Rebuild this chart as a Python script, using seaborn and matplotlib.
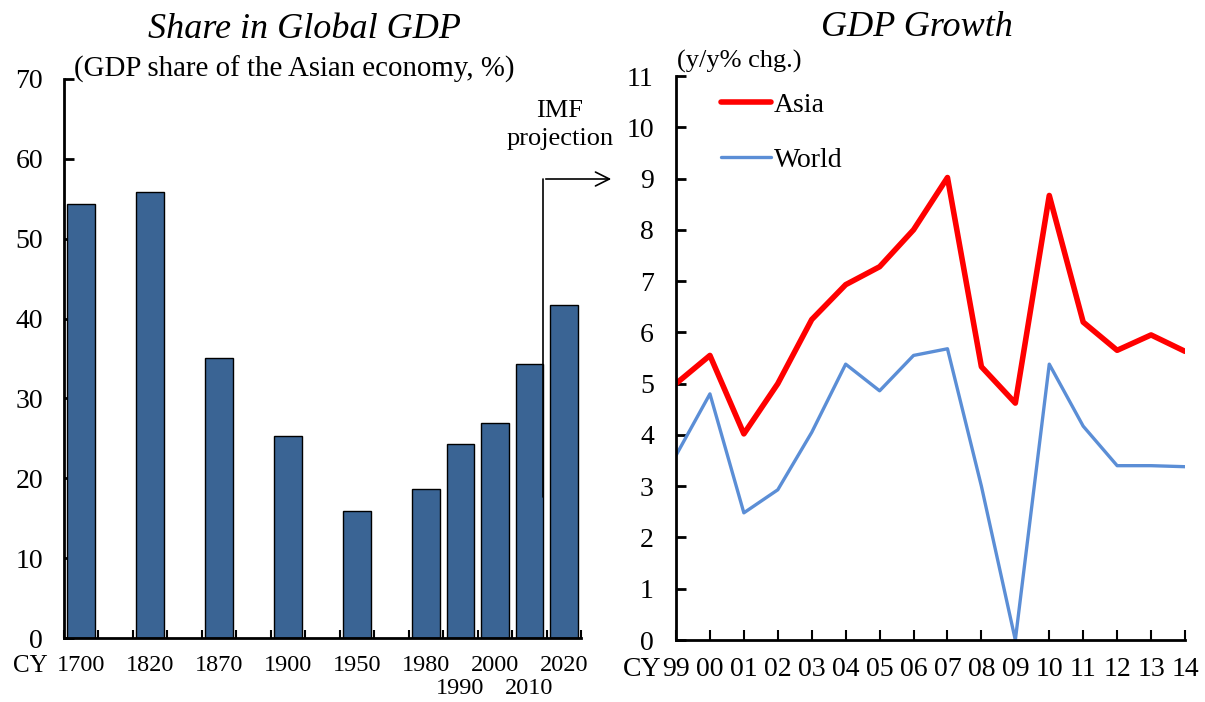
import numpy as np
import pandas as pd
import matplotlib
matplotlib.use("Agg")
import matplotlib.pyplot as plt
from matplotlib.lines import Line2D
from matplotlib.patches import FancyArrowPatch
import seaborn as sns

sns.set_theme(style="white")
plt.rcParams['font.family'] = ['Liberation Serif', 'DejaVu Serif']
plt.rcParams['text.color'] = 'black'
plt.rcParams['xtick.color'] = 'black'
plt.rcParams['ytick.color'] = 'black'

# Left panel: share of the Asian economy in global GDP (%)
years = [1700, 1820, 1870, 1900, 1950, 1980, 1990, 2000, 2010, 2020]
shares = [54.3, 55.8, 35.1, 25.3, 15.9, 18.7, 24.3, 26.9, 34.3, 41.7]

# Right panel: GDP growth (y/y % chg.)
growth_years = ['99', '00', '01', '02', '03', '04', '05', '06', '07', '08',
                '09', '10', '11', '12', '13', '14']
asia = [5.0, 5.55, 4.02, 5.0, 6.25, 6.93, 7.28, 8.0, 9.02, 5.33,
        4.62, 8.67, 6.2, 5.65, 5.95, 5.63]
world = [3.6, 4.8, 2.48, 2.93, 4.05, 5.38, 4.86, 5.55, 5.68, 3.0,
         0.0, 5.38, 4.17, 3.4, 3.4, 3.38]

W, H = 1205, 702
fig = plt.figure(figsize=(W / 100, H / 100), dpi=100)

def box(l, t, r, b):
    return [l / W, 1 - b / H, (r - l) / W, (b - t) / H]

# ---- left: bar chart ----
ax1 = fig.add_axes(box(64, 79, 581, 638))
# two-slot gaps before 1980, one slot afterwards
slot = np.cumsum([0] + [2 if y <= 1980 else 1 for y in years[1:]])
df1 = pd.DataFrame({'slot': slot, 'share': shares})
sns.barplot(data=df1, x='slot', y='share', native_scale=True, color='#3A6494',
            saturation=1, width=0.8, edgecolor='black', linewidth=1, ax=ax1)
ax1.set_xlim(-0.5, slot[-1] + 0.5)
ax1.set_ylim(0, 70)
ax1.set_yticks(range(0, 71, 10))
# 1990 and 2010 are written on a second, lower row
staggered = (1990, 2010)
ax1.set_xticks(slot)
ax1.set_xticklabels(['' if y in staggered else str(y) for y in years])
for s, y in zip(slot, years):
    if y in staggered:
        ax1.text(s, -51 / 559, str(y), transform=ax1.get_xaxis_transform(),
                 ha='center', va='center', fontsize=17.5)
ax1.set_xticks(np.arange(-0.5, slot[-1] + 1, 1), minor=True)
ax1.tick_params(axis='x', which='major', length=0, pad=12, labelsize=17.5)
ax1.tick_params(axis='x', which='minor', direction='in', length=6, width=1.5, bottom=True)
ax1.tick_params(axis='y', direction='in', length=7, width=2, pad=15, labelsize=20, left=True)
ax1.set_xlabel('')
ax1.set_ylabel('')
for s in ['top', 'right']:
    ax1.spines[s].set_visible(False)
for s in ['left', 'bottom']:
    ax1.spines[s].set_linewidth(2)
    ax1.spines[s].set_color('black')
fig.text(13 / W, 1 - 666 / H, 'CY', fontsize=18, va='center', ha='left')

fig.text(305 / W, 1 - 30 / H, 'Share in Global GDP', fontsize=26, style='italic',
         ha='center', va='center')
fig.text(74 / W, 1 - 69 / H, '(GDP share of the Asian economy, %)', fontsize=20.8,
         ha='left', va='center')
fig.text(560 / W, 1 - 125 / H, 'IMF\nprojection', fontsize=19, ha='center',
         va='center', linespacing=1.3)
fig.add_artist(Line2D([543 / W, 543 / W], [1 - 497 / H, 1 - 179 / H],
                      transform=fig.transFigure, color='black', lw=1.2))
fig.add_artist(FancyArrowPatch(
    (543 / W, 1 - 179 / H), (614 / W, 1 - 179 / H), transform=fig.transFigure,
    arrowstyle='->,head_length=10,head_width=5', color='black', lw=1.2))

# ---- right: line chart ----
ax2 = fig.add_axes(box(676, 76, 1185, 640))
df2 = pd.DataFrame({'i': np.arange(len(growth_years)), 'Asia': asia, 'World': world})
sns.lineplot(data=df2, x='i', y='World', color='#5B8ED6', linewidth=2.4, ax=ax2,
             label='World')
sns.lineplot(data=df2, x='i', y='Asia', color='#FF0000', linewidth=4, ax=ax2,
             label='Asia')
ax2.set_xlim(0, len(growth_years) - 1)
ax2.set_ylim(0, 11)
ax2.set_yticks(range(0, 12))
ax2.set_xticks(np.arange(len(growth_years)))
ax2.set_xticklabels(growth_years)
ax2.tick_params(axis='x', direction='in', length=7, width=1.5, pad=12, labelsize=20,
                bottom=True)
ax2.tick_params(axis='y', direction='in', length=7, width=2, pad=16, labelsize=20, left=True)
ax2.set_xlabel('')
ax2.set_ylabel('')
for s in ['top', 'right']:
    ax2.spines[s].set_visible(False)
for s in ['left', 'bottom']:
    ax2.spines[s].set_linewidth(2)
    ax2.spines[s].set_color('black')
h, l = ax2.get_legend_handles_labels()
ax2.legend([h[1], h[0]], [l[1], l[0]], loc='upper left', bbox_to_anchor=(0.04, 1.015),
           frameon=False, fontsize=20, handlelength=1.8, handletextpad=0.1,
           labelspacing=1.05)
fig.text(623 / W, 1 - 670 / H, 'CY', fontsize=20, va='center', ha='left')

fig.text(917 / W, 1 - 27 / H, 'GDP Growth', fontsize=26, style='italic',
         ha='center', va='center')
fig.text(677 / W, 1 - 61 / H, '(y/y% chg.)', fontsize=19, ha='left', va='center')

fig.savefig('out.png', dpi=100)
